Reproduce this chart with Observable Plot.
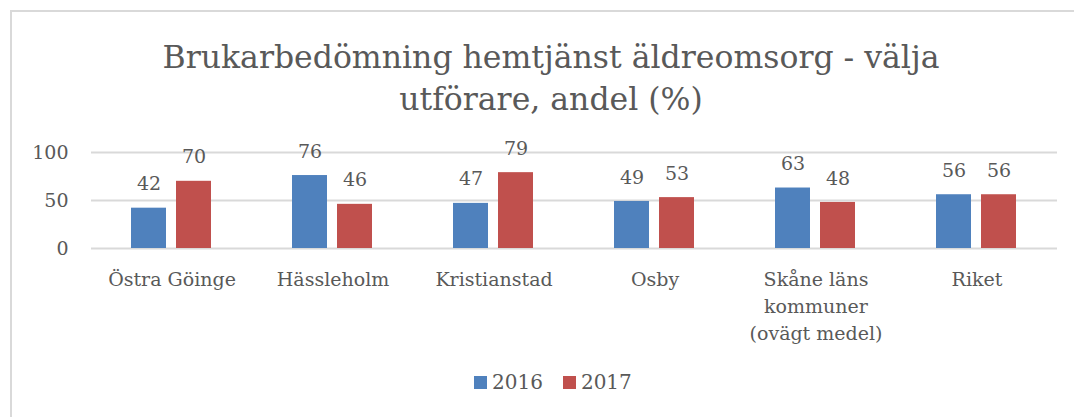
<!DOCTYPE html>
<html>
<head>
<meta charset="utf-8">
<script src="https://cdn.jsdelivr.net/npm/d3@7"></script>
<script src="https://cdn.jsdelivr.net/npm/@observablehq/plot@0.6"></script>
<style>
  html, body { margin: 0; padding: 0; background: #fff; }
  body { width: 1074px; height: 417px; position: relative; overflow: hidden; font-family: "DejaVu Serif", serif; color: #595959; }
  #frame { position: absolute; left: 10px; top: 10px; width: 1090px; height: 440px; border: 2px solid #d9d9d9; box-sizing: border-box; }
  #title { position: absolute; left: 51px; width: 1000px; top: 36px; text-align: center; font-size: 31.5px; line-height: 42px; color: #595959; white-space: nowrap; }
  #chart { position: absolute; left: 0; top: 0; }
  #legend { position: absolute; top: 370px; left: 474px; font-size: 20px; display: flex; align-items: center; color: #595959; }
  #legend .sw { display: inline-block; width: 13px; height: 13px; margin-right: 5px; }
  #legend .item { display: flex; align-items: center; margin-right: 20px; }
</style>
</head>
<body>
<div id="frame"></div>
<div id="chart"></div>
<div id="title">Brukarbedömning hemtjänst äldreomsorg - välja<br>utförare, andel (%)</div>
<div id="legend"></div>
<script>
const categories = ["Östra Göinge", "Hässleholm", "Kristianstad", "Osby", "Skåne läns\nkommuner\n(ovägt medel)", "Riket"];
const years = ["2016", "2017"];
const values2016 = [42, 76, 47, 49, 63, 56];
const values2017 = [70, 46, 79, 53, 48, 56];
const yTicks = [0, 50, 100];
const colors = ["#4F81BD", "#C0504D"];

const data = [];
categories.forEach((c, i) => {
  data.push({cat: c, year: years[0], value: values2016[i]});
  data.push({cat: c, year: years[1], value: values2017[i]});
});

const font = "DejaVu Serif, serif";
const chart = Plot.plot({
  width: 1074,
  height: 360,
  marginTop: 152,
  marginBottom: 112,
  marginLeft: 90,
  marginRight: 16,
  style: {fontFamily: font, color: "#595959", background: "transparent", overflow: "visible"},
  fx: {domain: categories, padding: 0, axis: null, label: null},
  x: {domain: years, paddingInner: 0.217, paddingOuter: 0.862, axis: null, label: null},
  y: {domain: [0, 100], axis: null, label: null},
  color: {domain: years, range: colors},
  marks: [
    Plot.gridY(yTicks, {stroke: "#d9d9d9", strokeOpacity: 1, strokeWidth: 2}),
    Plot.axisY(yTicks, {tickSize: 0, tickPadding: 23, fontSize: 19, fill: "#595959", label: null}),
    Plot.barY(data, {fx: "cat", x: "year", y: "value", fill: "year"}),
    Plot.text(data, {fx: "cat", x: "year", y: "value", text: d => String(d.value), dy: -24, fontSize: 19, fill: "#595959"}),
    Plot.text(categories, {fx: d => d, text: d => d, frameAnchor: "bottom", lineAnchor: "top", dy: 18, fontSize: 19, lineHeight: 1.42, fill: "#595959"})
  ]
});
document.getElementById("chart").appendChild(chart);

const legend = document.getElementById("legend");
years.forEach((y, i) => {
  const item = document.createElement("span");
  item.className = "item";
  const sw = document.createElement("span");
  sw.className = "sw";
  sw.style.background = colors[i];
  item.appendChild(sw);
  item.appendChild(document.createTextNode(y));
  legend.appendChild(item);
});
</script>
</body>
</html>
